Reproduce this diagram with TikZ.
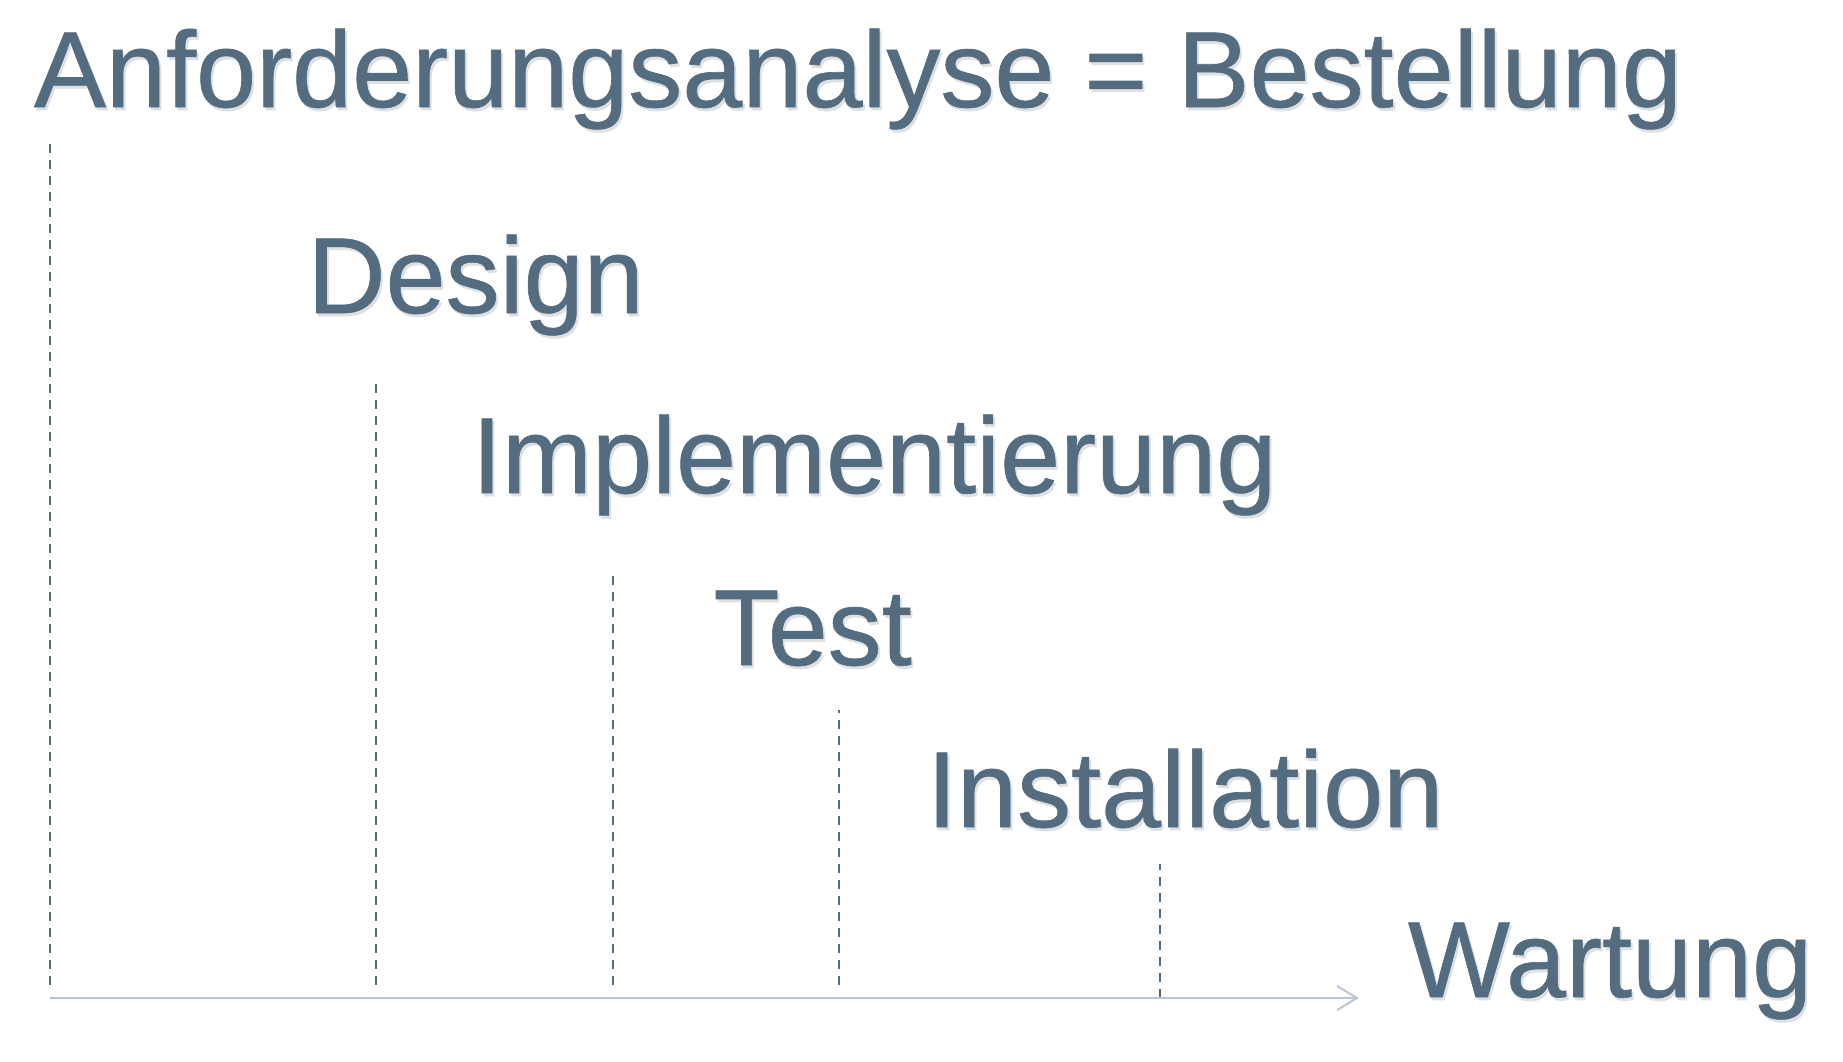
\documentclass[tikz,border=0pt]{standalone}
\usepackage{fontspec}
\setmainfont[FakeBold=0.6]{Liberation Sans}
\usetikzlibrary{arrows.meta}
\definecolor{txt}{RGB}{84,108,128}
\definecolor{axis}{RGB}{184,197,217}
\definecolor{shade}{RGB}{222,224,228}
\newcommand{\shadowtext}[1]{\makebox[0pt][l]{\hspace{2pt}\raisebox{-3pt}{\textcolor{shade}{#1}}}#1}
\tikzset{
  phase/.style={anchor=base west, inner sep=0pt, outer sep=0pt, text=txt,
    font=\fontsize{108}{120}\selectfont},
  guide/.style={draw=txt, line width=2pt, dash pattern=on 9pt off 7pt},
  timeline/.style={draw=axis, line width=2pt, -{Straight Barb[length=20pt, width=24pt, line width=2pt]}}
}
\begin{document}
\begin{tikzpicture}[x=1pt, y=-1pt]
  \useasboundingbox (0,0) rectangle (1843,1061);
  \node[phase] (req)  at (34,107)    {\shadowtext{Anforderungsanalyse = Bestellung}};
  \node[phase] (des)  at (307.6,313) {\shadowtext{Design}};
  \node[phase] (impl) at (472,493)   {\shadowtext{Implementierung}};
  \node[phase] (test) at (713.6,665) {\shadowtext{Test}};
  \node[phase] (inst) at (927,827)   {\shadowtext{Installation}};
  \node[phase] (wart) at (1408,997)  {\shadowtext{Wartung}};

  \coordinate (g1t) at (50,143);   \coordinate (g1b) at (50,985);
  \coordinate (g2t) at (376,378);  \coordinate (g2b) at (376,985);
  \coordinate (g3t) at (613,575);  \coordinate (g3b) at (613,985);
  \coordinate (g4t) at (839,710);  \coordinate (g4b) at (839,985);
  \coordinate (g5t) at (1160,864); \coordinate (g5b) at (1160,998);
  \draw[guide] (g1b) -- (g1t);
  \draw[guide] (g2b) -- (g2t);
  \draw[guide] (g3b) -- (g3t);
  \draw[guide] (g4b) -- (g4t);
  \draw[guide] (g5b) -- (g5t);

  \coordinate (ax0) at (50,998);
  \coordinate (ax1) at (1359,998);
  \draw[timeline] (ax0) -- (ax1);
\end{tikzpicture}
\end{document}
